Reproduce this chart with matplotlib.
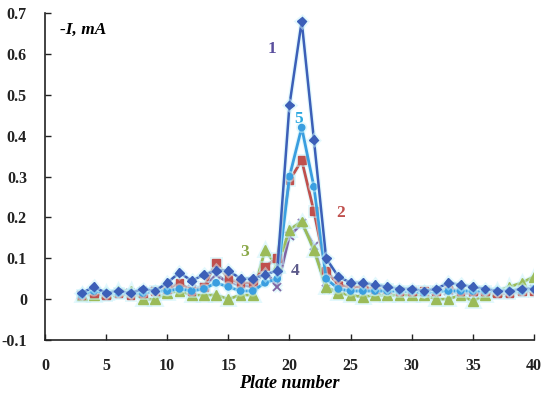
import matplotlib
matplotlib.use("Agg")
import matplotlib.pyplot as plt
import matplotlib.patheffects as pe

plates = list(range(3, 41))

s1 = [0.015, 0.03, 0.015, 0.02, 0.015, 0.025, 0.02, 0.04, 0.065, 0.045, 0.06, 0.07, 0.07, 0.05, 0.05,
      0.06, 0.07, 0.475, 0.68, 0.39, 0.10, 0.055, 0.04, 0.04, 0.035, 0.03, 0.025, 0.025, 0.02, 0.025,
      0.04, 0.035, 0.03, 0.025, 0.02, 0.02, 0.025, 0.025]
s2 = [0.01, 0.015, 0.01, 0.015, 0.01, 0.015, 0.02, 0.025, 0.04, 0.02, 0.03, 0.09, 0.05, 0.04, 0.04,
      0.08, 0.10, 0.29, 0.34, 0.215, 0.07, 0.035, 0.03, 0.03, 0.025, 0.025, 0.02, 0.02, 0.02, 0.02,
      0.025, 0.02, 0.02, 0.02, 0.015, 0.015, 0.02, 0.02]
s3 = [0.01, 0.01, 0.015, 0.02, 0.02, 0.0, 0.0, 0.015, 0.02, 0.01, 0.01, 0.01, 0.0, 0.01, 0.01,
      0.12, 0.08, 0.17, 0.19, 0.12, 0.03, 0.015, 0.01, 0.005, 0.01, 0.01, 0.01, 0.01, 0.01, 0.0,
      0.0, 0.01, -0.005, 0.01, 0.02, 0.03, 0.04, 0.055]
s4 = [0.01, 0.015, 0.01, 0.015, 0.015, 0.02, 0.02, 0.025, 0.03, 0.025, 0.03, 0.06, 0.04, 0.035, 0.03,
      0.07, 0.03, 0.155, 0.185, 0.13, 0.025, 0.02, 0.02, 0.02, 0.02, 0.02, 0.02, 0.015, 0.015, 0.02,
      0.02, 0.015, 0.015, 0.015, 0.015, 0.015, 0.02, 0.025]
s5 = [0.01, 0.02, 0.015, 0.015, 0.015, 0.015, 0.02, 0.02, 0.025, 0.02, 0.025, 0.04, 0.03, 0.02, 0.02,
      0.04, 0.05, 0.30, 0.42, 0.275, 0.05, 0.025, 0.02, 0.02, 0.02, 0.02, 0.02, 0.02, 0.015, 0.02,
      0.02, 0.02, 0.02, 0.02, 0.02, 0.02, 0.02, 0.025]

fig = plt.figure(figsize=(5.5, 3.98), dpi=100)
ax = fig.add_axes([0.0818, 0.1457, 0.889, 0.8213])

serif = ["Liberation Serif", "DejaVu Serif"]
halo = [pe.Stroke(linewidth=3.6, foreground="#c8f2fb", alpha=0.5), pe.Normal()]

ax.plot(plates, s4, color="#8064a2", marker="x", ms=6, mew=1.3, lw=2, path_effects=halo, zorder=3)
ax.plot(plates, s3, color="#9bbb59", marker="^", ms=7, lw=2, path_effects=halo, zorder=4)
ax.plot(plates, s2, color="#c0504d", marker="s", ms=5.5, lw=2, path_effects=halo, zorder=5)
ax.plot(plates, s5, color="#3a9ee0", marker="o", ms=4.5, lw=2, path_effects=halo, zorder=6)
ax.plot(plates, s1, color="#3c5fb8", marker="D", ms=4.5, lw=1.8, path_effects=halo, zorder=7)

ax.set_xlim(0, 40)
ax.set_ylim(-0.1, 0.7)
ax.set_xticks(range(0, 41, 5))
ax.set_yticks([-0.1, 0, 0.1, 0.2, 0.3, 0.4, 0.5, 0.6, 0.7])
ax.set_yticklabels(["-0.1", "0", "0.1", "0.2", "0.3", "0.4", "0.5", "0.6", "0.7"])
for s in ["top", "right"]:
    ax.spines[s].set_visible(False)
for s in ["left", "bottom"]:
    ax.spines[s].set_linewidth(1.2)
    ax.spines[s].set_color("#222222")
ax.tick_params(direction="in", length=4, width=1, colors="#222222")
ax.tick_params(axis="y", pad=13)
ax.tick_params(axis="x", pad=13)
for lab in ax.get_xticklabels() + ax.get_yticklabels():
    lab.set_fontfamily(serif)
    lab.set_fontweight("bold")
    lab.set_fontsize(11.5)

ax.set_xlabel("Plate number", fontfamily=serif, fontweight="bold", fontstyle="italic",
              fontsize=13, labelpad=1)
ax.text(1.2, 0.66, "-I, mA", fontfamily=serif, fontweight="bold", fontstyle="italic",
        fontsize=12.5, va="center", ha="left")

lab_kw = dict(fontfamily=serif, fontweight="bold", fontsize=12.5, ha="center", va="center")
ax.text(18.6, 0.612, "1", color="#5a4f9e", **lab_kw)
ax.text(20.75, 0.44, "5", color="#2aa8e0", **lab_kw)
ax.text(24.2, 0.21, "2", color="#c0504d", **lab_kw)
ax.text(16.3, 0.115, "3", color="#8aa848", **lab_kw)
ax.text(20.5, 0.07, "4", color="#5c5a8a", **lab_kw)

fig.savefig("out.png", dpi=100)
